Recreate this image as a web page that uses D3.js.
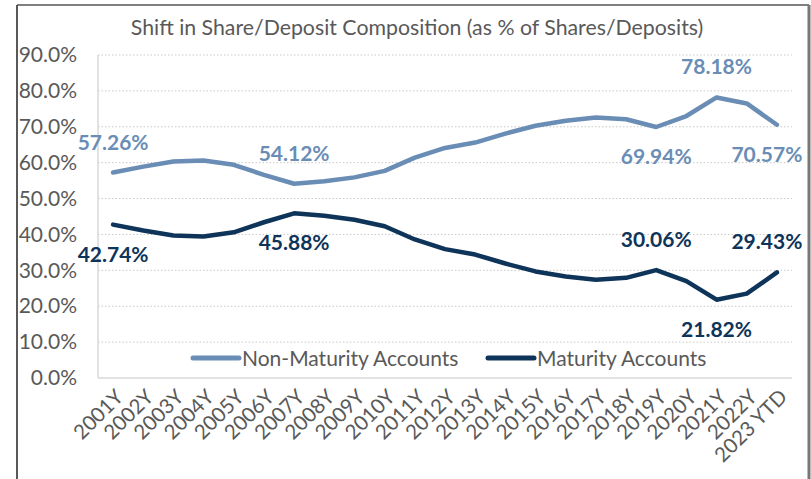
<!DOCTYPE html>
<html><head><meta charset="utf-8">
<script src="https://cdn.jsdelivr.net/npm/d3@7"></script>
<style>body{margin:0;background:#fff}svg{display:block}</style>
</head><body>
<svg id="c" width="811" height="479"></svg>
<script>
const categories = ["2001Y","2002Y","2003Y","2004Y","2005Y","2006Y","2007Y","2008Y","2009Y","2010Y","2011Y","2012Y","2013Y","2014Y","2015Y","2016Y","2017Y","2018Y","2019Y","2020Y","2021Y","2022Y","2023 YTD"];
const nonMaturity = [57.26,58.9,60.3,60.6,59.4,56.6,54.12,54.8,55.9,57.7,61.4,64.1,65.6,68.1,70.3,71.7,72.6,72.1,69.94,73.0,78.18,76.5,70.57];
const maturity = [42.74,41.1,39.7,39.4,40.6,43.4,45.88,45.2,44.1,42.3,38.6,35.9,34.4,31.9,29.7,28.3,27.4,27.9,30.06,27.0,21.82,23.5,29.43];
const yTicks = [0,10,20,30,40,50,60,70,80,90];
const seriesNames = ["Non-Maturity Accounts","Maturity Accounts"];
const colors = ["#6a8db6","#0e3459"];
const nonLabels = [[0,"above"],[6,"above"],[18,"below"],[20,"above"],[22,"below"]];
const matLabels = [[0,"below"],[6,"below"],[18,"above"],[20,"below"],[22,"above"]];

const svg = d3.select("#c");
const FONT = "Lato, 'Open Sans', sans-serif";
const pLeft = 98, pRight = 792, pTop = 55, pBottom = 378;

const x = d3.scalePoint().domain(categories).range([pLeft, pRight]).padding(0.5);
const y = d3.scaleLinear().domain([0, 90]).range([pBottom, pTop]);

// frame
svg.append("line").attr("x1",17).attr("x2",17).attr("y1",5).attr("y2",479).attr("stroke","#222").attr("stroke-width",1.5);
svg.append("line").attr("x1",17).attr("x2",809).attr("y1",5).attr("y2",5).attr("stroke","#555").attr("stroke-width",1.5);
svg.append("line").attr("x1",809).attr("x2",809).attr("y1",5).attr("y2",479).attr("stroke","#777").attr("stroke-width",3);

// title
svg.append("text").attr("x",417).attr("y",35).attr("text-anchor","middle")
  .attr("font-family",FONT).attr("font-size",21.3).attr("fill","#595959")
  .text("Shift in Share/Deposit Composition (as % of Shares/Deposits)");

// gridlines
svg.append("g").selectAll("line").data(yTicks.filter(d=>d>0)).join("line")
  .attr("x1",pLeft).attr("x2",pRight).attr("y1",d=>y(d)).attr("y2",d=>y(d))
  .attr("stroke","#c8c8c8").attr("stroke-width",1).attr("stroke-dasharray","1.5,2");
svg.append("line").attr("x1",pLeft).attr("x2",pRight).attr("y1",pBottom).attr("y2",pBottom).attr("stroke","#d9d9d9").attr("stroke-width",1.5);
svg.append("line").attr("x1",pLeft).attr("x2",pLeft).attr("y1",pTop).attr("y2",pBottom).attr("stroke","#d9d9d9").attr("stroke-width",1.5);

// y axis labels
const yAxis = d3.axisLeft(y).tickValues(yTicks).tickFormat(d=>d.toFixed(1)+"%").tickSize(0).tickPadding(0);
const gy = svg.append("g").attr("transform","translate(77,0)").call(yAxis);
gy.select(".domain").remove();
gy.selectAll("text").attr("font-family",FONT).attr("font-size",21).attr("fill","#595959");

// x axis labels
const xAxis = d3.axisBottom(x).tickSize(0).tickPadding(0);
const gx = svg.append("g").attr("transform","translate(0,393)").call(xAxis);
gx.select(".domain").remove();
gx.selectAll("text").attr("font-family",FONT).attr("font-size",20.5).attr("fill","#595959")
  .attr("text-anchor","end").attr("dy","0.35em").attr("transform","translate(6,0) rotate(-45)");

// lines
const line = d3.line().x((d,i)=>x(categories[i])).y(d=>y(d));
[nonMaturity, maturity].forEach((s,k)=>{
  svg.append("path").datum(s).attr("d",line).attr("fill","none")
    .attr("stroke",colors[k]).attr("stroke-width",4.5).attr("stroke-linejoin","round").attr("stroke-linecap","round");
});

// data labels
function addLabels(series, labels, color){
  svg.append("g").selectAll("text").data(labels).join("text")
    .attr("x",d=> x(categories[d[0]]) - (d[0]===categories.length-1 ? 10 : 0))
    .attr("y",d=> y(series[d[0]]) + (d[1]==="above" ? -23 : 37))
    .attr("text-anchor","middle").attr("font-family",FONT).attr("font-weight","bold")
    .attr("font-size",21).attr("fill",color)
    .text(d=>series[d[0]].toFixed(2)+"%");
}
addLabels(nonMaturity, nonLabels, colors[0]);
addLabels(maturity, matLabels, colors[1]);

// legend
const legX = [193, 488];
const lg = svg.append("g");
seriesNames.forEach((n,k)=>{
  lg.append("line").attr("x1",legX[k]).attr("x2",legX[k]+46).attr("y1",358).attr("y2",358)
    .attr("stroke",colors[k]).attr("stroke-width",5).attr("stroke-linecap","round");
  lg.append("text").attr("x",legX[k]+49).attr("y",366).attr("font-family",FONT).attr("font-size",21)
    .attr("fill","#595959").text(n);
});
</script>
</body></html>
